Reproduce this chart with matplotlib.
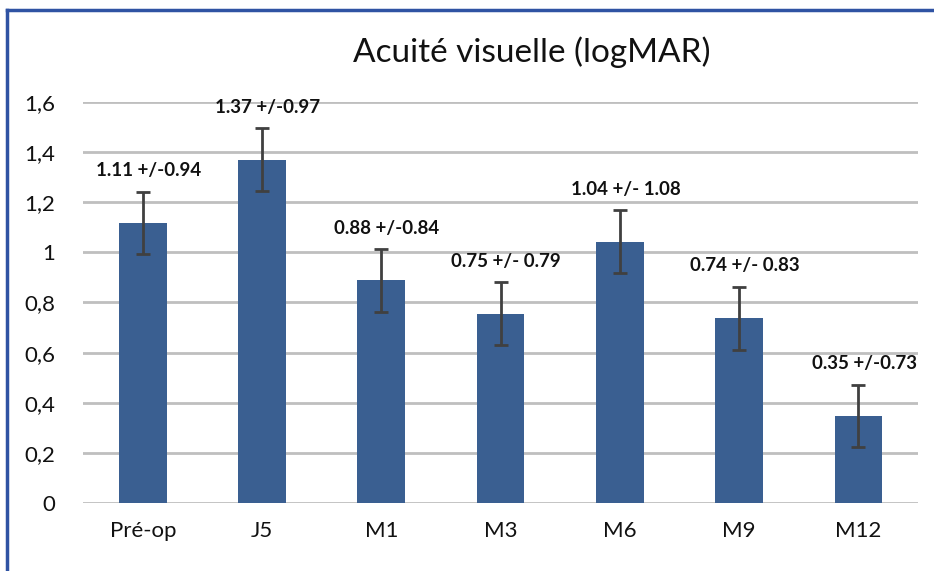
import matplotlib.pyplot as plt
from matplotlib.lines import Line2D

plt.rcParams['font.family'] = ['Lato', 'DejaVu Sans']

categories = ['Pré-op', 'J5', 'M1', 'M3', 'M6', 'M9', 'M12']
means = [1.117, 1.37, 0.888, 0.755, 1.043, 0.737, 0.347]
err = [0.125, 0.125, 0.125, 0.125, 0.125, 0.125, 0.125]
labels = ['1.11 +/-0.94', '1.37 +/-0.97', '0.88 +/-0.84', '0.75 +/- 0.79',
          '1.04 +/- 1.08', '0.74 +/- 0.83', '0.35 +/-0.73']
yticks = [0, 0.2, 0.4, 0.6, 0.8, 1.0, 1.2, 1.4, 1.6]
ytick_labels = ['0', '0,2', '0,4', '0,6', '0,8', '1', '1,2', '1,4', '1,6']

fig = plt.figure(figsize=(9.34, 5.71), dpi=100)
ax = fig.add_axes([0.089, 0.119, 0.894, 0.7025])

x = range(len(categories))
ax.bar(x, means, width=0.4, color='#3A5F91', zorder=3)
ax.errorbar(x, means, yerr=err, fmt='none', ecolor='#404040', elinewidth=2,
            capsize=5, capthick=2, zorder=4)

for i, (m, e, lab) in enumerate(zip(means, err, labels)):
    ax.annotate(lab, (i, m + e), xytext=(4, 9), textcoords='offset points',
                ha='center', va='bottom', fontsize=13.5, fontweight='bold',
                color='#111111', zorder=5)

ax.set_xlim(-0.5, len(categories) - 0.5)
ax.set_ylim(0, 1.6)
ax.set_yticks(yticks)
ax.set_yticklabels(ytick_labels)
ax.set_xticks(list(x))
ax.set_xticklabels(categories)
ax.tick_params(axis='both', length=0, labelsize=16, colors='#111111')
ax.tick_params(axis='x', pad=13)
ax.tick_params(axis='y', pad=20)
ax.grid(axis='y', color='#BFBFBF', linewidth=2, zorder=0)
for s in ax.spines.values():
    s.set_visible(False)

fig.text(0.569, 0.908, 'Acuité visuelle (logMAR)', ha='center', va='center',
         fontsize=24, color='#111111')

# blue frame (left and top edges only visible)
fig.add_artist(Line2D([0.008, 0.008], [0.0, 0.983], color='#2F53A3', linewidth=2.5,
                      transform=fig.transFigure))
fig.add_artist(Line2D([0.008, 1.0], [0.983, 0.983], color='#2F53A3', linewidth=2.5,
                      transform=fig.transFigure))

fig.savefig('out.png', dpi=100)
